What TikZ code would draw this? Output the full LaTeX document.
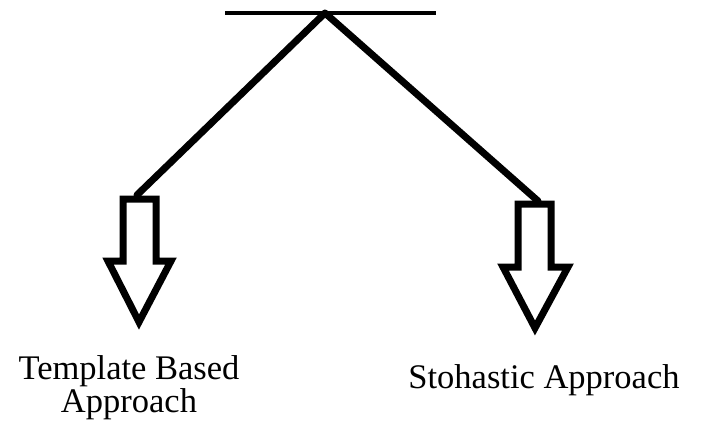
\documentclass[tikz,border=0pt]{standalone}
\usepackage{fontspec}
\setmainfont{Liberation Serif}
\begin{document}
\begin{tikzpicture}[x=1pt,y=-1pt,
  thick line/.style={line width=7pt,line cap=round,line join=round},
  arrowbox/.style={line width=7pt,line join=miter},
  lbl/.style={font=\fontsize{34.5}{28}\selectfont,align=center,inner sep=0pt}]
\useasboundingbox (0,0) rectangle (703,423);
\coordinate (apex) at (325,13);
\coordinate (barL) at (225,13);
\coordinate (barR) at (436,13);
\coordinate (ltop) at (137,195);
\coordinate (rtop) at (538,201);
\draw[line width=3.5pt] (barL) -- (barR);
\draw[thick line] (ltop) -- (apex) -- (rtop);
% left block arrow
\draw[arrowbox] (123,199) -- (156,199) -- (156,261) -- (171,261) -- (139,322) -- (108,261) -- (123,261) -- cycle;
% right block arrow
\draw[arrowbox] (518,204) -- (551,204) -- (551,267) -- (568,267) -- (535,328) -- (503,267) -- (518,267) -- cycle;
\node[lbl,anchor=base] (tb) at (129,412) {Template Based\\Approach};
\node[lbl,anchor=base] (sa) at (544,388) {Stohastic Approach};
\end{tikzpicture}
\end{document}
